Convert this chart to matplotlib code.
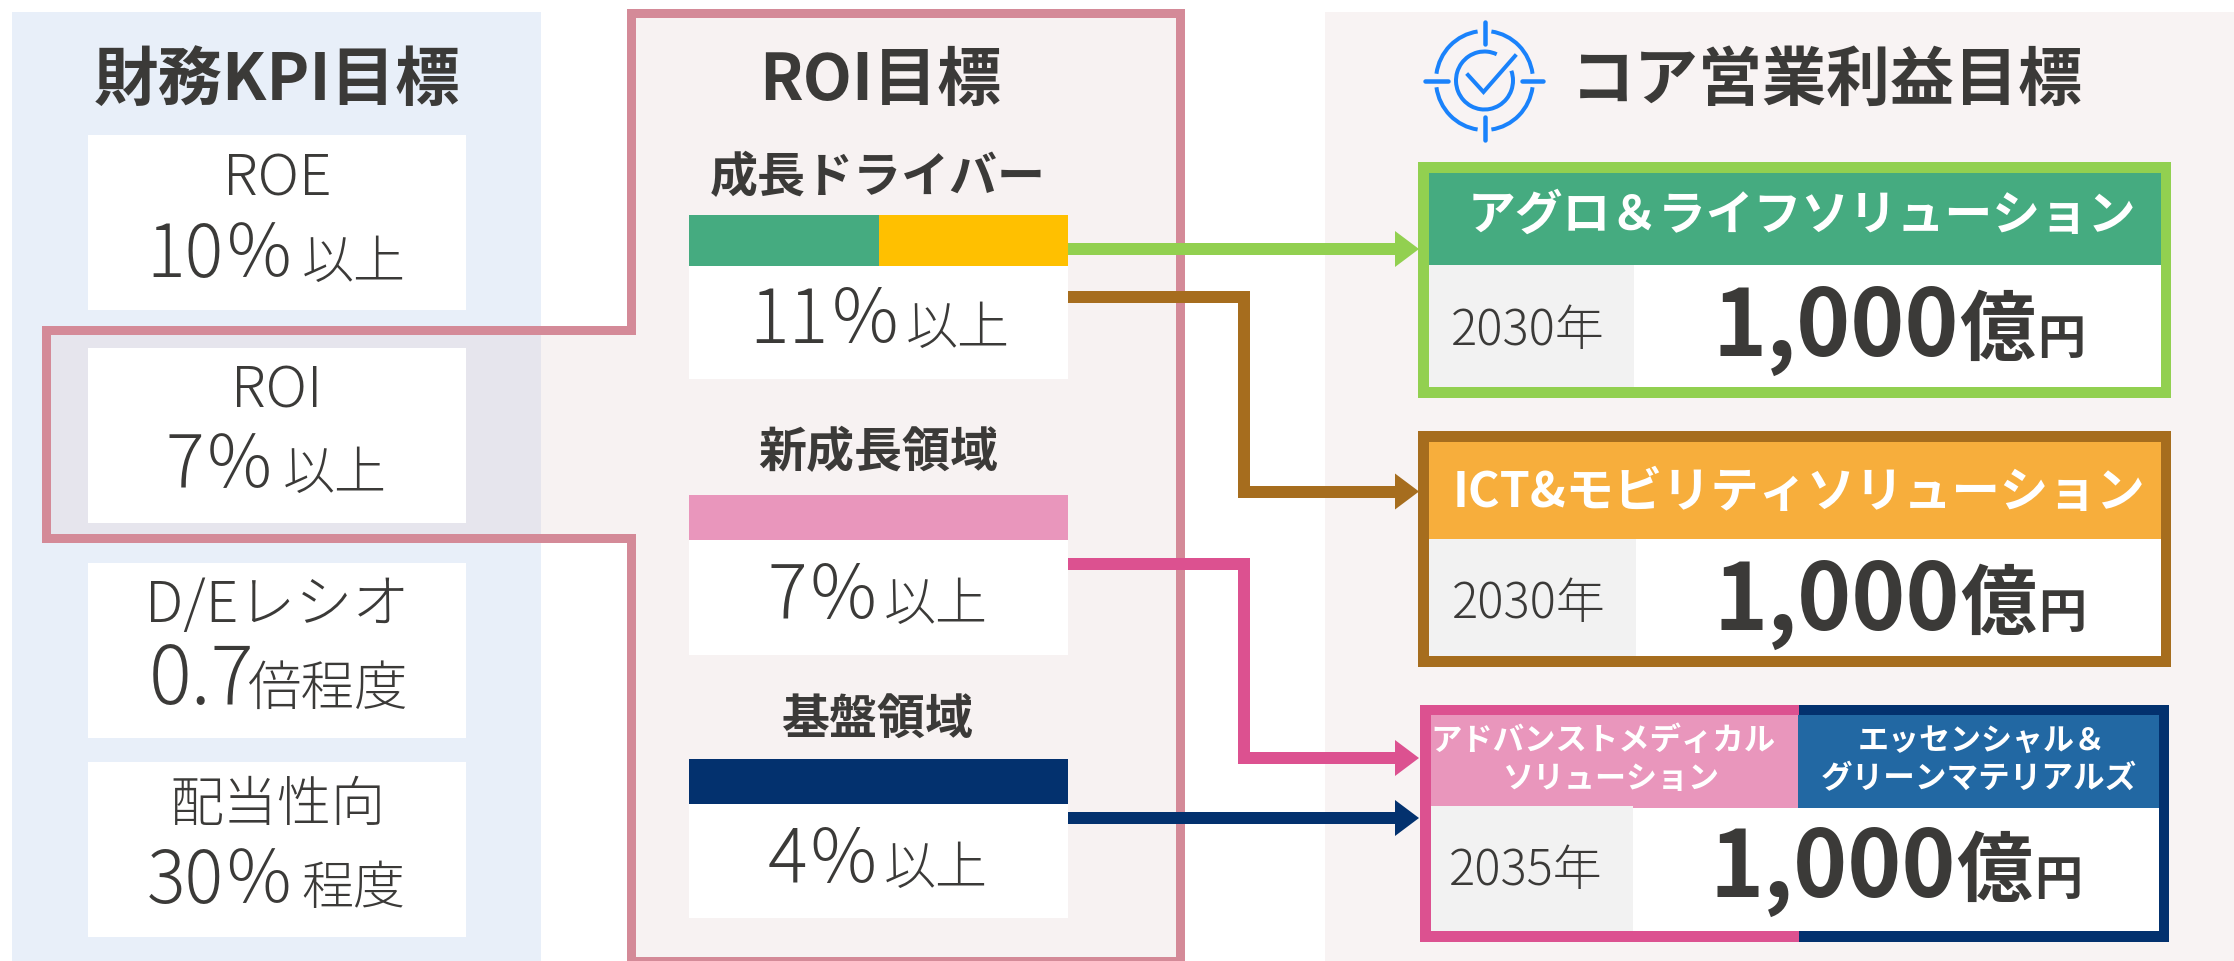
import matplotlib
matplotlib.use("Agg")
import matplotlib.pyplot as plt
from matplotlib.patches import Rectangle, Polygon, Arc

plt.rcParams['font.family'] = ['Noto Sans CJK JP', 'DejaVu Sans']

# text and values
kpi_title = "財務KPI目標"
kpi_labels = ["ROE", "ROI", "D/Eレシオ", "配当性向"]
kpi_values = ["10％", "7％", "0.7", "30％"]
kpi_units = ["以上", "以上", "倍程度", "程度"]

roi_title = "ROI目標"
roi_labels = ["成長ドライバー", "新成長領域", "基盤領域"]
roi_values = ["11％", "7％", "4％"]
roi_units = ["以上", "以上", "以上"]

core_title = "コア営業利益目標"
core_years = ["2030年", "2030年", "2035年"]
core_amount = "1,000"
core_headers = ["アグロ＆ライフソリューション", "ICT&モビリティソリューション"]
core_header_left = ["アドバンストメディカル", "ソリューション"]
core_header_right = ["エッセンシャル＆", "グリーンマテリアルズ"]

# colours
INK = "#3b3a38"
OUTLINE = "#d48a98"
GREEN = "#45ab80"
LIME = "#92d050"
YELLOW = "#ffc000"
ORANGE = "#f7ae3c"
BROWN = "#a66d1e"
PINK = "#dc5190"
LIGHT_PINK = "#e996bc"
NAVY = "#03316e"
BLUE = "#2268a3"
GREY = "#f2f2f2"
ICON = "#1a82fb"


def rect(x0, y0, x1, y1, color, z=2):
    ax.add_patch(Rectangle((x0, y0), x1 - x0, y1 - y0, facecolor=color, edgecolor="none", zorder=z))


def label(x, y, s, size, ha="center", color=INK, weight="normal"):
    # size is the em size in pixels, figure is at 100 dpi
    ax.text(x, y, s, fontsize=size * 0.72, ha=ha, va="baseline", color=color, weight=weight, zorder=6)


def value(x, y, big, small, big_size, small_size, gap):
    label(x, y, big, big_size, ha="right", weight="light")
    label(x + gap, y + 1, small, small_size, ha="left", weight="light")


def arrow(points, color):
    xs = [p[0] for p in points]
    ys = [p[1] for p in points]
    xs[-1] -= 20
    ax.plot(xs, ys, color=color, lw=12 * 0.72, solid_capstyle="butt", solid_joinstyle="miter", zorder=5)
    tip, y = points[-1]
    ax.add_patch(Polygon([(tip - 24, y - 18), (tip, y), (tip - 24, y + 18)], facecolor=color, edgecolor="none", zorder=5))


fig = plt.figure(figsize=(22.34, 9.61), dpi=100)
ax = fig.add_axes([0, 0, 1, 1])
ax.set_xlim(0, 2234)
ax.set_ylim(961, 0)
ax.axis("off")

# background panels
rect(12, 12, 541, 961, "#e8eff9", z=1)
rect(1325, 12, 2234, 961, "#f8f3f3", z=1)

# ROI outline, reaches over into the left panel
outline = [(631, 12.5), (1180, 12.5), (1180, 961), (631, 961), (631, 537.5),
           (45.5, 537.5), (45.5, 330), (631, 330)]
ax.add_patch(Polygon(outline, closed=True, facecolor=(223 / 255, 196 / 255, 196 / 255, 0.22),
                     edgecolor="none", zorder=1.5))
ax.add_patch(Polygon(outline, closed=True, facecolor="none", edgecolor=OUTLINE, lw=9 * 0.72,
                     joinstyle="miter", zorder=1.6))

# left column
label(277, 100, kpi_title, 64.5, weight="bold")
kpi_boxes = [(135, 310), (348, 523), (563, 738), (762, 937)]
kpi_label_y = [196, 408, 622, 821]
kpi_label_size = [57, 57, 57, 54]
kpi_value_y = [277, 488, 704, 903]
kpi_join_x = [296, 276, 254, 296]
kpi_gap = [6, 7, -6, 5]
kpi_big_size = [72, 72, 80, 72]
kpi_unit_size = [52, 52, 53.5, 52]
for i in range(4):
    rect(88, kpi_boxes[i][0], 466, kpi_boxes[i][1], "white")
    label(277, kpi_label_y[i], kpi_labels[i], kpi_label_size[i], weight="light")
    value(kpi_join_x[i], kpi_value_y[i], kpi_values[i], kpi_units[i], kpi_big_size[i], kpi_unit_size[i], kpi_gap[i])

# middle column
label(880, 100, roi_title, 64, weight="bold")
roi_heads = [(215, 266), (495, 540), (759, 804)]
roi_bottoms = [379, 655, 918]
roi_label_y = [192, 467, 735]
roi_value_y = [343, 619, 883]
roi_join_x = [902, 881, 881]
roi_gap = [4, 3, 3]
for i in range(3):
    rect(689, roi_heads[i][1], 1068, roi_bottoms[i], "white")
    label(878, roi_label_y[i], roi_labels[i], 48, weight="bold")
    value(roi_join_x[i], roi_value_y[i], roi_values[i], roi_units[i], 74, 52, roi_gap[i])
rect(689, 215, 879, 266, GREEN)
rect(879, 215, 1068, 266, YELLOW)
rect(689, 495, 1068, 540, LIGHT_PINK)
rect(689, 759, 1068, 804, NAVY)

# arrows
arrow([(1068, 249), (1419, 249)], LIME)
arrow([(1068, 297), (1243.5, 297), (1243.5, 491.5), (1419, 491.5)], BROWN)
arrow([(1068, 564), (1243.5, 564), (1243.5, 758), (1419, 758)], PINK)
arrow([(1068, 818), (1419, 818)], NAVY)

# right title with the target icon
label(1827, 100, core_title, 64, weight="bold")
cx, cy = 1484.5, 80.5
for t1, t2 in [(-82, -8), (8, 82), (98, 172), (188, 262)]:
    ax.add_patch(Arc((cx, cy), 97, 99, theta1=t1, theta2=t2, color=ICON, lw=4 * 0.72, zorder=6))
ax.add_patch(Arc((cx, cy), 57, 58, theta1=-20, theta2=295, color=ICON, lw=4 * 0.72, zorder=6))
for seg in [([cx, cx], [22, 44]), ([cx, cx], [117, 140]), ([1425, 1448], [cy, cy]), ([1522, 1543], [cy, cy])]:
    ax.plot(seg[0], seg[1], color=ICON, lw=4.5 * 0.72, solid_capstyle="round", zorder=6)
ax.plot([1468, 1483.5, 1515], [75, 92, 56], color=ICON, lw=4 * 0.72, solid_joinstyle="miter", zorder=6)

# first two cards
rect(1418, 162, 2171, 398, LIME)
rect(1429, 173, 2161, 265, GREEN)
rect(1429, 265, 1634, 387, GREY)
rect(1634, 265, 2161, 387, "white")
label(1802, 230, core_headers[0], 47.8, color="white", weight="bold")

rect(1418, 431, 2171, 667, BROWN)
rect(1429, 442, 2161, 539, ORANGE)
rect(1429, 539, 1636, 656, GREY)
rect(1636, 539, 2161, 656, "white")
label(1799, 507, core_headers[1], 48.3, color="white", weight="bold")

# third card has two colours
rect(1420, 704.5, 1799, 941.5, PINK)
rect(1799, 704.5, 2169, 941.5, NAVY)
rect(1431, 715, 1798, 806, LIGHT_PINK)
rect(1798, 715, 2159, 808, BLUE)
rect(1431, 806, 1633, 931, GREY)
rect(1633, 808, 2159, 931, "white")
rect(1633, 806, 1798, 808, LIGHT_PINK)
label(1603, 750, core_header_left[0], 31.4, color="white", weight="bold")
label(1611, 788, core_header_left[1], 31, color="white", weight="bold")
label(1982, 750, core_header_right[0], 31, color="white", weight="bold")
label(1979, 788, core_header_right[1], 31.6, color="white", weight="bold")

# year and amount, the same in each card
year_x = [1528, 1529, 1526]
year_y = [345, 618, 885]
amount_x = [1959, 1960, 1956]
amount_y = [356, 630, 897]
for i in range(3):
    label(year_x[i], year_y[i], core_years[i], 49, weight="light")
    label(amount_x[i], amount_y[i], core_amount, 92, ha="right", weight="bold")
    label(amount_x[i], amount_y[i] - 2, "億", 76, ha="left", weight="bold")
    label(amount_x[i] + 78, amount_y[i] - 2, "円", 48, ha="left", weight="bold")

fig.savefig("out.png", dpi=100)
